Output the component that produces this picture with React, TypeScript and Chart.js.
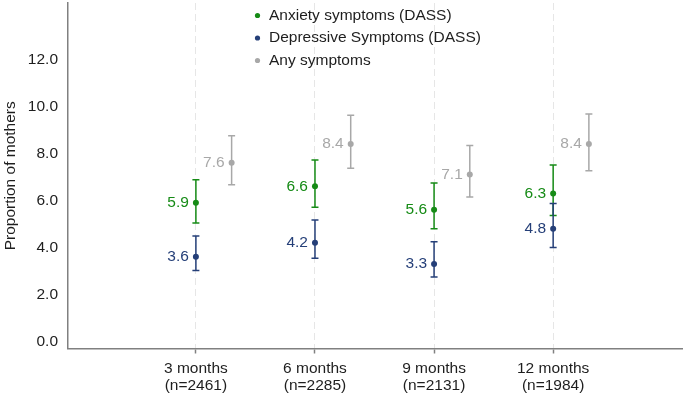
import React, { useEffect, useRef } from "react";
import { Chart, registerables } from "chart.js";

Chart.register(...registerables);

// Survey waves (x positions) and their two-line tick labels
const waves = [1, 2, 3, 4];
const waveLabels = [
  ["3 months", "(n=2461)"],
  ["6 months", "(n=2285)"],
  ["9 months", "(n=2131)"],
  ["12 months", "(n=1984)"],
];
const yTickValues = [0, 2, 4, 6, 8, 10, 12];

// Proportions (%) with 95% confidence limits
const anxiety = [5.9, 6.6, 5.6, 6.3];
const anxietyLow = [5.04, 5.71, 4.8, 5.36];
const anxietyHigh = [6.88, 7.72, 6.74, 7.51];

const depressive = [3.6, 4.2, 3.3, 4.8];
const depressiveLow = [3.02, 3.54, 2.74, 4.0];
const depressiveHigh = [4.49, 5.17, 4.24, 5.87];

const anySymptoms = [7.6, 8.4, 7.1, 8.4];
const anyLow = [6.67, 7.37, 6.15, 7.26];
const anyHigh = [8.75, 9.62, 8.34, 9.68];

const seriesNames = [
  "Anxiety symptoms (DASS)",
  "Depressive Symptoms (DASS)",
  "Any symptoms",
];
const GREEN = "#168b16";
const NAVY = "#253f78";
const GREY = "#a8a8a8";
const FONT = "Liberation Sans";
const FONT_SIZE = 15.5;
const ANY_SHIFT = 0.3;

const errorBars = {
  id: "errorBars",
  beforeDatasetsDraw(chart: any) {
    const { ctx } = chart;
    const x = chart.scales.x;
    const y = chart.scales.y;
    chart.data.datasets.forEach((ds: any) => {
      ds.data.forEach((pt: any, i: number) => {
        const px = x.getPixelForValue(pt.x);
        const top = y.getPixelForValue(ds.ciHigh[i]);
        const bot = y.getPixelForValue(ds.ciLow[i]);
        const cap = 3.5;
        ctx.save();
        ctx.strokeStyle = ds.backgroundColor;
        ctx.lineWidth = 1.5;
        ctx.beginPath();
        ctx.moveTo(px, top);
        ctx.lineTo(px, bot);
        ctx.moveTo(px - cap, top);
        ctx.lineTo(px + cap, top);
        ctx.moveTo(px - cap, bot);
        ctx.lineTo(px + cap, bot);
        ctx.stroke();
        ctx.restore();
      });
    });
  },
};

const valueLabels = {
  id: "valueLabels",
  afterDatasetsDraw(chart: any) {
    const { ctx } = chart;
    const x = chart.scales.x;
    const y = chart.scales.y;
    ctx.save();
    ctx.font = `${FONT_SIZE}px "${FONT}"`;
    ctx.textAlign = "right";
    ctx.textBaseline = "middle";
    chart.data.datasets.forEach((ds: any) => {
      ctx.fillStyle = ds.backgroundColor;
      ds.data.forEach((pt: any) => {
        ctx.fillText(
          pt.y.toFixed(1),
          x.getPixelForValue(pt.x) - 7,
          y.getPixelForValue(pt.y)
        );
      });
    });
    ctx.restore();
  },
};

const stackedLegend = {
  id: "stackedLegend",
  afterDraw(chart: any) {
    const { ctx } = chart;
    const left = 257.5;
    const rowTop = 15.5;
    const rowGap = 22.5;
    ctx.save();
    ctx.font = `${FONT_SIZE}px "${FONT}"`;
    ctx.textAlign = "left";
    ctx.textBaseline = "middle";
    chart.data.datasets.forEach((ds: any, i: number) => {
      const cy = rowTop + i * rowGap;
      ctx.fillStyle = ds.backgroundColor;
      ctx.beginPath();
      ctx.arc(left, cy, 2.6, 0, Math.PI * 2);
      ctx.fill();
      ctx.fillStyle = "#1e1e1e";
      ctx.fillText(ds.label, left + 11.5, cy);
    });
    ctx.restore();
  },
};

function points(values: number[], shift: number) {
  return waves.map((w, i) => ({ x: w + shift, y: values[i] }));
}

export default function App() {
  const canvasRef = useRef<HTMLCanvasElement | null>(null);

  useEffect(() => {
    if (!canvasRef.current) return;
    const chart = new Chart(canvasRef.current, {
      type: "scatter",
      data: {
        datasets: [
          {
            label: seriesNames[0],
            data: points(anxiety, 0),
            ciLow: anxietyLow,
            ciHigh: anxietyHigh,
            backgroundColor: GREEN,
            borderColor: GREEN,
          },
          {
            label: seriesNames[1],
            data: points(depressive, 0),
            ciLow: depressiveLow,
            ciHigh: depressiveHigh,
            backgroundColor: NAVY,
            borderColor: NAVY,
          },
          {
            label: seriesNames[2],
            data: points(anySymptoms, ANY_SHIFT),
            ciLow: anyLow,
            ciHigh: anyHigh,
            backgroundColor: GREY,
            borderColor: GREY,
          },
        ] as any,
      },
      options: {
        responsive: false,
        animation: false,
        devicePixelRatio: 1,
        layout: { padding: 0 },
        elements: {
          point: { radius: 3, borderWidth: 0, hoverRadius: 3 },
        },
        plugins: {
          legend: { display: false },
          tooltip: { enabled: false },
        },
        scales: {
          x: {
            type: "linear",
            min: -0.074,
            max: 5.082,
            afterBuildTicks: (scale: any) => {
              scale.ticks = waves.map((v) => ({ value: v }));
            },
            afterFit: (scale: any) => {
              scale.height = 44.5;
              scale.paddingRight = 0;
            },
            ticks: {
              padding: 6.5,
              color: "#1e1e1e",
              font: { family: FONT, size: FONT_SIZE, lineHeight: 1.1 },
              maxRotation: 0,
              autoSkip: false,
              callback: (_v: any, i: number) => waveLabels[i],
            },
            grid: {
              color: "#e6e6e6",
              lineWidth: 1,
              drawTicks: true,
              tickLength: 5,
              tickColor: "#808080",
              tickWidth: 1.5,
              tickBorderDash: [],
            },
            border: {
              display: true,
              color: "#808080",
              width: 1.5,
              dash: [7, 4],
            },
          },
          y: {
            type: "linear",
            min: -0.3,
            max: 14.4,
            afterBuildTicks: (scale: any) => {
              scale.ticks = yTickValues.map((v) => ({ value: v }));
            },
            afterFit: (scale: any) => {
              scale.width = 68;
              scale.paddingTop = 0;
              scale.paddingBottom = 0;
            },
            ticks: {
              padding: 10,
              color: "#1e1e1e",
              font: { family: FONT, size: FONT_SIZE },
              callback: (v: any) => Number(v).toFixed(1),
            },
            grid: { display: false, drawTicks: false },
            border: { display: true, color: "#808080", width: 1.5 },
            title: {
              display: true,
              text: "Proportion of mothers",
              color: "#1e1e1e",
              padding: { top: 2.5, bottom: 0 },
              font: { family: FONT, size: FONT_SIZE, lineHeight: 1 },
            },
          },
        },
      } as any,
      plugins: [errorBars, valueLabels, stackedLegend],
    });
    return () => chart.destroy();
  }, []);

  return (
    <div
      style={{
        position: "fixed",
        left: 0,
        top: 0,
        width: 685,
        height: 393,
        background: "#ffffff",
      }}
    >
      <canvas ref={canvasRef} width={685} height={393} />
    </div>
  );
}
